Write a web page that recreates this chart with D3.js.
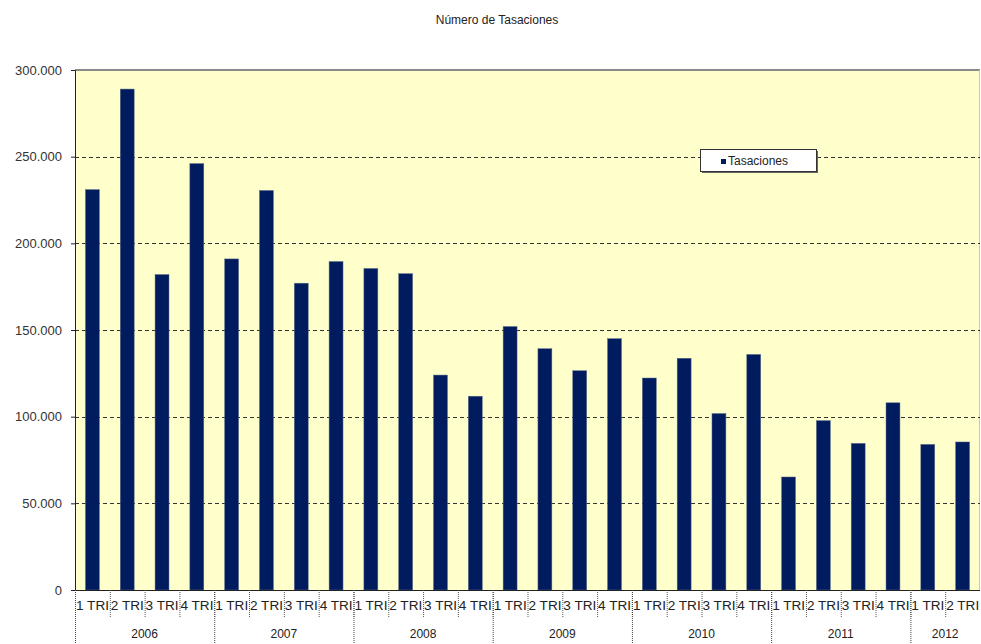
<!DOCTYPE html>
<html>
<head>
<meta charset="UTF-8">
<script src="https://d3js.org/d3.v7.min.js"></script>
<style>
  body { margin: 0; background: #fff; }
  text { font-family: "Liberation Sans", Arial, sans-serif; }
</style>
</head>
<body>
<svg></svg>
<script>
// data
var years = ["2006", "2007", "2008", "2009", "2010", "2011", "2012"];
var quarters = ["1 TRI", "2 TRI", "3 TRI", "4 TRI"];
var quartersPerYear = [4, 4, 4, 4, 4, 4, 2];
var tasaciones = [
  231000, 289000, 182000, 246000,
  191000, 230500, 177000, 189500,
  185500, 182500, 124000, 111800,
  152000, 139200, 126500, 145000,
  122300, 133700, 101800, 135900,
  65200, 97700, 84600, 108000,
  84000, 85400
];
var yTicks = [0, 50000, 100000, 150000, 200000, 250000, 300000];

var width = 981, height = 644;
var margin = {left: 75, right: 1, top: 70, bottom: 54};

var svg = d3.select("svg").attr("width", width).attr("height", height);

// build category keys
var cats = [];
years.forEach(function(y, i) {
  for (var q = 0; q < quartersPerYear[i]; q++) cats.push({year: y, q: quarters[q], key: y + "-" + q});
});

var x = d3.scaleBand()
  .domain(cats.map(function(d) { return d.key; }))
  .range([margin.left, width - margin.right])
  .paddingInner(0.6).paddingOuter(0.3);
var xStep = d3.scaleBand()
  .domain(cats.map(function(d) { return d.key; }))
  .range([margin.left, width - margin.right]);

var y = d3.scaleLinear().domain([0, 300000]).range([height - margin.bottom, margin.top]);

var fmt = function(v) { return v == 0 ? "0" : d3.format(",")(v).replace(/,/g, "."); };

// title
svg.append("text").attr("x", 497).attr("y", 24).attr("text-anchor", "middle")
  .style("font-size", "12px").attr("fill", "#222").text("Número de Tasaciones");

// plot background
svg.append("rect").attr("x", margin.left).attr("y", y(300000))
  .attr("width", width - margin.right - margin.left).attr("height", y(0) - y(300000))
  .attr("fill", "#FFFFCC");
svg.append("line").attr("x1", margin.left).attr("x2", width - margin.right)
  .attr("y1", y(300000)).attr("y2", y(300000)).attr("stroke", "#8a8a8a").attr("stroke-width", 2);
svg.append("line").attr("x1", width - margin.right - 0.5).attr("x2", width - margin.right - 0.5)
  .attr("y1", y(300000)).attr("y2", y(0)).attr("stroke", "#c8c8b0");

// gridlines
svg.append("g").selectAll("line").data(yTicks.filter(function(d) { return d > 0 && d < 300000; }))
  .enter().append("line")
  .attr("x1", margin.left).attr("x2", width - margin.right)
  .attr("y1", function(d) { return Math.round(y(d)) + 0.5; })
  .attr("y2", function(d) { return Math.round(y(d)) + 0.5; })
  .attr("stroke", "#333").attr("stroke-width", 1.2).attr("stroke-dasharray", "4,3");

// y axis
var yAxis = svg.append("g").attr("transform", "translate(" + margin.left + ",0)")
  .call(d3.axisLeft(y).tickValues(yTicks).tickFormat(fmt).tickSize(4).tickPadding(9));
yAxis.select(".domain").attr("stroke", "#222");
yAxis.selectAll(".tick line").attr("stroke", "#222");
yAxis.selectAll("text").style("font-size", "13px").attr("fill", "#333")
  .style("font-family", "'Liberation Sans', Arial, sans-serif");

// bars
svg.append("g").selectAll("rect").data(tasaciones).enter().append("rect")
  .attr("x", function(d, i) { return x(cats[i].key); })
  .attr("width", x.bandwidth())
  .attr("y", function(d) { return y(d); })
  .attr("height", function(d) { return y(0) - y(d); })
  .attr("fill", "#001C5E").attr("stroke", "#5a6a8a").attr("stroke-width", 0.5);

// x axis baseline
var base = y(0);
svg.append("line").attr("x1", margin.left).attr("x2", width - margin.right)
  .attr("y1", base + 0.5).attr("y2", base + 0.5).attr("stroke", "#222");

// quarter separators and labels
var xa = svg.append("g");
cats.forEach(function(c, i) {
  var x0 = xStep(c.key);
  if (i > 0) {
    xa.append("line").attr("x1", x0 + 0.5).attr("x2", x0 + 0.5)
      .attr("y1", base).attr("y2", base + 28)
      .attr("stroke", "#555").attr("stroke-dasharray", "1,1");
  }
  xa.append("text").attr("x", x0 + 1).attr("y", base + 20)
    .style("font-size", "12px").attr("fill", "#222").attr("textLength", 33)
    .attr("lengthAdjust", "spacingAndGlyphs").text(c.q);
});

// year separators and labels
var start = 0;
years.forEach(function(yr, i) {
  var x0 = xStep(cats[start].key);
  var n = quartersPerYear[i];
  var x1 = xStep(cats[start + n - 1].key) + xStep.bandwidth();
  xa.append("line").attr("x1", x0 + 0.5).attr("x2", x0 + 0.5)
    .attr("y1", base).attr("y2", height)
    .attr("stroke", "#444").attr("stroke-dasharray", "1,1");
  xa.append("text").attr("x", (x0 + x1) / 2).attr("y", base + 48).attr("text-anchor", "middle")
    .style("font-size", "12px").attr("fill", "#222").text(yr);
  start += n;
});

// legend
var lg = svg.append("g").attr("transform", "translate(700,149)");
lg.append("rect").attr("x", 2).attr("y", 2).attr("width", 116).attr("height", 22).attr("fill", "#666");
lg.append("rect").attr("x", 0.5).attr("y", 0.5).attr("width", 116).attr("height", 22)
  .attr("fill", "#fff").attr("stroke", "#333");
lg.append("rect").attr("x", 21).attr("y", 10).attr("width", 5).attr("height", 5).attr("fill", "#001C5E");
lg.append("text").attr("x", 28).attr("y", 16).style("font-size", "12px").attr("fill", "#222").text("Tasaciones");
</script>
</body>
</html>
